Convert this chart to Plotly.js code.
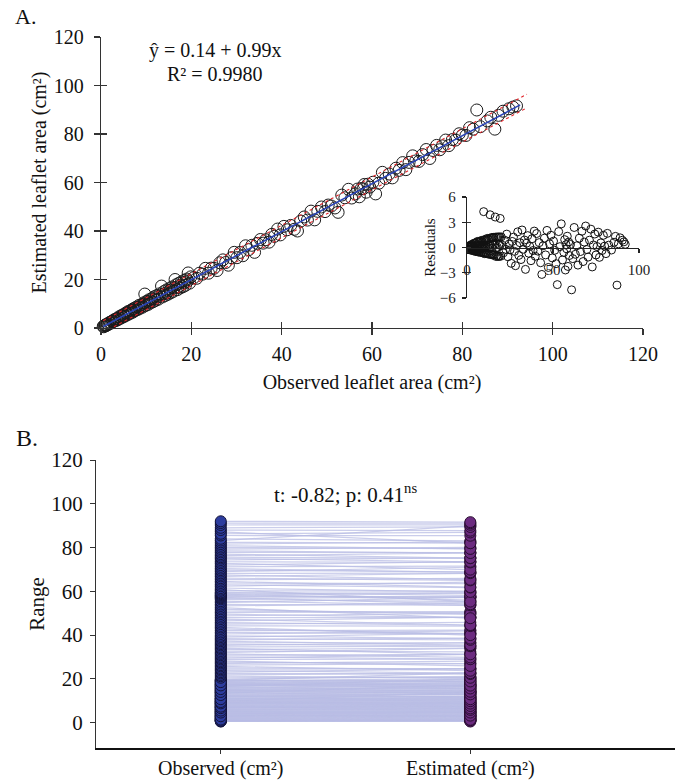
<!DOCTYPE html>
<html>
<head>
<meta charset="utf-8">
<script src="https://cdn.plot.ly/plotly-3.0.1.min.js"></script>
<style>html,body{margin:0;padding:0;background:#fff;}#chart{width:675px;height:784px;}</style>
</head>
<body>
<div id="chart"></div>
<script>
// ---------------- data ----------------
const observed = [
  0.5,0.8,1.0,1.2,1.5,1.7,2.0,2.2,2.4,2.7,3.0,3.2,3.5,3.7,4.0,4.3,4.5,4.8,5.0,5.3,
  5.6,5.9,6.1,6.4,6.7,7.0,7.2,7.5,7.8,8.1,8.4,8.6,8.9,9.2,9.5,9.7,9.8,10.1,10.4,10.6,
  10.9,11.2,11.5,11.8,12.1,12.4,12.7,13.0,13.4,13.6,13.9,14.2,14.5,14.8,15.1,15.4,15.7,16.0,16.4,16.6,
  16.9,17.2,17.5,17.8,18.1,18.4,18.7,19.0,19.3,19.6,19.9,
  1.1,1.9,2.6,3.4,4.1,5.1,6.0,6.9,7.7,8.3,9.0,10.0,11.0,12.0,13.5,14.6,16.2,17.6,19.2,
  0.6,0.9,1.4,2.9,4.6,5.5,6.6,7.3,8.8,9.4,10.7,12.6,14.0,15.3,17.0,18.5,
  20.5,21.2,21.8,22.5,23.1,23.8,24.4,25.0,25.7,26.3,27.0,27.6,28.2,28.9,29.5,30.1,30.8,31.4,32.0,32.7,
  33.4,34.0,34.6,35.3,35.9,36.5,37.2,37.8,38.4,39.1,39.7,
  40.5,41.2,42.0,42.8,43.5,44.2,45.0,45.7,46.5,47.3,48.0,48.8,49.6,50.3,51.0,51.8,52.5,53.3,54.0,54.8,
  55.5,56.3,56.8,57.2,57.6,58.0,58.3,58.7,59.1,59.5,
  60.2,60.8,61.5,62.3,63.0,63.8,64.5,65.3,66.0,66.8,67.5,68.2,69.0,69.7,70.4,71.2,72.0,72.8,73.5,74.3,
  75.0,75.6,76.3,77.0,77.8,78.5,79.3,80.0,80.8,81.6,82.4,83.2,84.0,87.2,85.5,86.3,88.0,89.0,90.3,91.2,92.0
];
const estimated = [
  0.7,0.9,1.3,1.1,1.8,1.6,2.4,2.0,2.7,2.6,3.5,3.0,3.9,3.4,4.6,4.0,5.1,4.5,5.6,4.9,
  6.3,5.5,6.9,6.0,7.4,6.5,8.0,7.1,8.6,7.6,9.3,8.1,9.6,8.6,10.4,14.0,9.2,11.0,9.7,11.6,
  10.3,12.1,10.8,12.9,11.4,13.4,11.9,14.1,17.3,12.8,15.0,13.4,15.7,13.9,16.2,14.5,16.9,15.1,20.0,17.8,
  15.8,18.4,16.5,19.0,17.0,19.6,17.6,20.2,22.7,18.5,21.1,
  1.0,2.1,2.9,3.3,4.3,5.0,6.3,7.1,7.6,8.6,9.0,10.3,11.2,12.0,13.8,14.5,16.5,17.6,19.4,
  0.5,1.1,1.3,3.2,4.6,5.8,6.5,7.6,8.7,9.8,10.7,12.9,14.1,15.6,16.9,18.8,
  20.7,20.5,22.6,22.2,24.6,22.6,24.7,24.6,23.7,26.9,28.1,27.0,25.9,29.0,31.2,29.0,31.2,29.8,33.9,32.3,
  34.1,31.2,34.9,36.5,35.0,36.4,35.4,38.6,37.8,40.8,38.4,
  41.9,40.5,42.3,40.7,40.0,44.1,45.8,44.5,48.2,44.6,48.1,49.9,48.0,50.7,50.3,49.5,47.7,54.8,53.7,57.2,
  53.6,55.3,57.3,54.1,57.5,57.4,59.2,56.0,59.3,58.1,
  60.1,55.3,59.7,64.2,61.7,63.5,61.9,65.9,65.0,68.2,65.3,68.3,71.0,68.9,68.7,71.5,73.6,69.9,73.2,75.3,
  73.5,75.1,77.5,75.2,77.7,77.5,80.1,79.5,79.4,82.6,82.0,89.9,83.0,82.0,85.4,86.9,87.7,89.4,90.4,91.1,91.6
];
// regression reported on the chart: ŷ = 0.14 + 0.99x, R² = 0.9980
const intercept = 0.14;
const slope = 0.99;
// fitted line and dashed band end points
const fitX = [0.5, 92.8];
const fitY = [0.64, 92.0];
const bandX = [0.5, 94.3];
const bandUpper = [3.0, 96.4];
const bandLower = [-1.8, 90.8];
// axis ticks
const mainTicks = [0, 20, 40, 60, 80, 100, 120];
const residTicksX = [0, 50, 100];
const residTicksY = [-6, -3, 0, 3, 6];
const rangeTicks = [0, 20, 40, 60, 80, 100, 120];
const groups = ['Observed (cm²)', 'Estimated (cm²)'];

// derived: residuals from the reported fit
const residuals = observed.map((o, i) => +(estimated[i] - (intercept + slope * o)).toFixed(2));

// paired segments for panel B
const segX = [], segY = [];
observed.forEach((o, i) => { segX.push(groups[0], groups[1], null); segY.push(o, estimated[i], null); });

// ---------------- layout helpers ----------------
const W = 675, H = 784;
const fx = p => p / W;
const fy = p => 1 - p / H;
const FONT = 'Liberation Serif, Times New Roman, serif';

const traces = [
  {type:'scatter', mode:'markers', x: observed, y: estimated, xaxis:'x', yaxis:'y',
   marker:{symbol:'circle-open', size:12, color:'#1a1a1a', line:{width:1}}, cliponaxis:false, hoverinfo:'skip'},
  {type:'scatter', mode:'lines', x: fitX, y: fitY, xaxis:'x', yaxis:'y',
   line:{color:'#2a44b8', width:1.6}, hoverinfo:'skip'},
  {type:'scatter', mode:'lines', x: bandX, y: bandUpper, xaxis:'x', yaxis:'y',
   line:{color:'#e2262b', width:1.1, dash:'3px,3px'}, hoverinfo:'skip'},
  {type:'scatter', mode:'lines', x: bandX, y: bandLower, xaxis:'x', yaxis:'y',
   line:{color:'#e2262b', width:1.1, dash:'3px,3px'}, hoverinfo:'skip'},
  {type:'scatter', mode:'markers', x: observed, y: residuals, xaxis:'x3', yaxis:'y3',
   marker:{symbol:'circle-open', size:8, color:'#111', line:{width:1}}, hoverinfo:'skip'},
  {type:'scatter', mode:'lines', x: segX, y: segY, xaxis:'x2', yaxis:'y2', connectgaps:false,
   line:{color:'rgba(184,188,228,0.75)', width:1.2}, hoverinfo:'skip'},
  {type:'scatter', mode:'markers', x: observed.map(() => groups[0]), y: observed, xaxis:'x2', yaxis:'y2',
   marker:{symbol:'circle', size:11, color:'#2c3c9e', line:{color:'#14143a', width:1}}, cliponaxis:false, hoverinfo:'skip'},
  {type:'scatter', mode:'markers', x: estimated.map(() => groups[1]), y: estimated, xaxis:'x2', yaxis:'y2',
   marker:{symbol:'circle', size:11, color:'#6c2b80', line:{color:'#2a0e32', width:1}}, cliponaxis:false, hoverinfo:'skip'},
  {type:'scatter', mode:'markers', x:[null], y:[null], xaxis:'x4', yaxis:'y4', hoverinfo:'skip'},
  {type:'scatter', mode:'markers', x:[null], y:[null], xaxis:'x5', yaxis:'y5', hoverinfo:'skip'}
];

const axA = {showgrid:false, zeroline:false, showline:true, linecolor:'#333', linewidth:1.2,
             ticks:'outside', ticklen:6, tickwidth:1.2, tickcolor:'#333', tickfont:{size:20, color:'#111'}};
const crossTick = {showgrid:false, zeroline:false, showline:false, showticklabels:false,
                   ticks:'inside', tickwidth:1.2, tickcolor:'#333'};

const insetDom = {x:[fx(467), fx(639)], y:[fy(298), fy(197)]};
const insetPos = (insetDom.y[0] + insetDom.y[1]) / 2;

const layout = {
  width: W, height: H, margin:{l:0, r:0, t:0, b:0}, showlegend:false,
  paper_bgcolor:'#fff', plot_bgcolor:'rgba(0,0,0,0)',
  font:{family: FONT, color:'#111'},
  xaxis: Object.assign({}, axA, {domain:[fx(101), fx(643)], range:[0,120], tickvals: mainTicks, anchor:'y',
          ticklabelstandoff:2,
          title:{text:'Observed leaflet area (cm²)', font:{size:20}, standoff:10}}),
  yaxis: Object.assign({}, axA, {domain:[fy(328), fy(37)], range:[0,120], tickvals: mainTicks, anchor:'x',
          ticklabelstandoff:6,
          title:{text:'Estimated leaflet area (cm²)', font:{size:20}, standoff:1}}),
  xaxis4: Object.assign({}, crossTick, {overlaying:'x', anchor:'y4', range:[0,120], tickvals: mainTicks, ticklen:6}),
  yaxis4: Object.assign({}, crossTick, {overlaying:'y', anchor:'x4', range:[0,120], tickvals: mainTicks, ticklen:6}),
  xaxis3: {domain: insetDom.x, range:[0,100], anchor:'free', position: insetPos, tickvals: residTicksX,
           showgrid:false, zeroline:false, showline:true, linecolor:'#222', linewidth:1.2,
           ticks:'outside', ticklen:4, tickwidth:1.2, tickcolor:'#222', tickfont:{size:15, color:'#222'},
           ticklabelstandoff:4},
  yaxis3: {domain: insetDom.y, range:[-6,6], anchor:'x3', tickvals: residTicksY,
           showgrid:false, zeroline:false, showline:true, linecolor:'#222', linewidth:1.2,
           ticks:'outside', ticklen:4, tickwidth:1.2, tickcolor:'#222', tickfont:{size:15, color:'#222'},
           ticklabelstandoff:3,
           title:{text:'Residuals', font:{size:15}, standoff:0}},
  xaxis5: Object.assign({}, crossTick, {overlaying:'x3', anchor:'free', position: insetPos, range:[0,100], tickvals: residTicksX, ticklen:4}),
  yaxis5: Object.assign({}, crossTick, {overlaying:'y3', anchor:'x5', range:[-6,6], tickvals: residTicksY, ticklen:4}),
  xaxis2: {domain:[fx(96), 1], type:'category', categoryarray: groups, range:[-0.5, 1.82], anchor:'y2',
           showgrid:false, zeroline:false, showline:true, linecolor:'#111', linewidth:2,
           ticks:'outside', ticklen:4, tickwidth:1, tickcolor:'#333', tickfont:{size:20, color:'#111'},
           ticklabelstandoff:-3},
  yaxis2: {domain:[fy(748), fy(460)], range:[-11.6, 120], tickvals: rangeTicks, anchor:'x2',
           showgrid:false, zeroline:false, showline:true, linecolor:'#333', linewidth:1,
           ticks:'outside', ticklen:5, tickwidth:1, tickcolor:'#333', tickfont:{size:21, color:'#111'},
           ticklabelstandoff:3,
           title:{text:'Range', font:{size:21}, standoff:0}},
  annotations: [
    {text:'A.', xref:'paper', yref:'paper', x:fx(25), y:fy(17), showarrow:false, font:{size:22}, xanchor:'center', yanchor:'middle'},
    {text:'B.', xref:'paper', yref:'paper', x:fx(27), y:fy(438), showarrow:false, font:{size:24}, xanchor:'center', yanchor:'middle'},
    {text:'ŷ = 0.14 + 0.99x', xref:'paper', yref:'paper', x:fx(215), y:fy(50), showarrow:false, font:{size:20}, xanchor:'center', yanchor:'middle'},
    {text:'R² = 0.9980', xref:'paper', yref:'paper', x:fx(215), y:fy(74), showarrow:false, font:{size:20}, xanchor:'center', yanchor:'middle'},
    {text:'t: -0.82; p: 0.41<sup>ns</sup>', xref:'paper', yref:'paper', x:fx(345), y:fy(493), showarrow:false, font:{size:21}, xanchor:'center', yanchor:'middle'}
  ]
};

Plotly.newPlot('chart', traces, layout, {displayModeBar:false, staticPlot:true});
</script>
</body>
</html>
